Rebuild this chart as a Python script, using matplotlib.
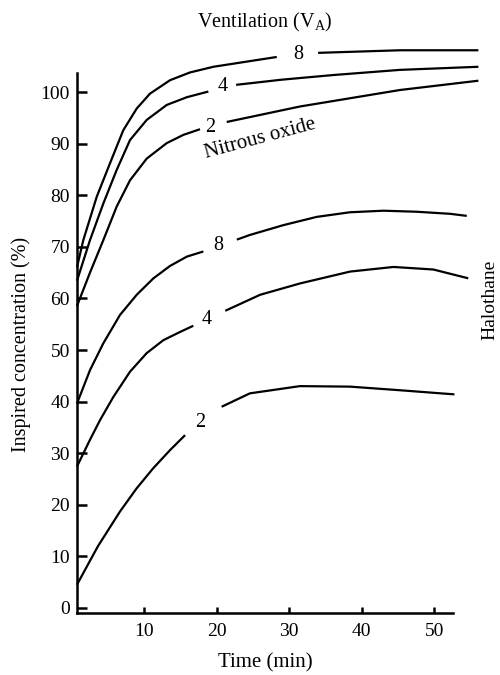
import matplotlib
matplotlib.use("Agg")
import matplotlib.pyplot as plt
import numpy as np

plt.rcParams['font.family'] = ['Liberation Serif', 'DejaVu Serif']
plt.rcParams['mathtext.fontset'] = 'custom'
plt.rcParams['mathtext.rm'] = 'Liberation Serif'

# ---- data (time in min, inspired concentration in %) ----
n2o_8_t = [0.75, 1.63, 3.48, 5.31, 7.14, 8.99, 10.83, 13.59, 16.34, 19.56, 23.24, 28.3,
           34.0, 45.3, 56.1]
n2o_8_v = [66.0, 71.3, 79.7, 86.2, 92.6, 96.8, 99.7, 102.3, 103.8, 104.9, 105.7, 106.8,
           107.6, 108.1, 108.1]

n2o_4_t = [0.75, 2.55, 4.39, 6.23, 8.07, 10.37, 13.13, 15.9, 18.87,
           22.7, 29.0, 36.1, 45.3, 56.1]
n2o_4_v = [63.4, 71.3, 78.4, 84.9, 90.7, 94.6, 97.5, 99.0, 100.1,
           101.4, 102.4, 103.3, 104.3, 104.9]

n2o_2_t = [0.75, 2.55, 4.39, 6.23, 8.07, 10.37, 13.13, 15.42, 17.72,
           21.4, 31.5, 45.3, 56.1]
n2o_2_v = [58.5, 65.0, 71.3, 77.8, 82.9, 87.1, 90.1, 91.7, 92.8,
           94.2, 97.2, 100.4, 102.2]

hal_8_t = [0.75, 2.55, 4.39, 6.69, 8.99, 11.3, 13.59, 15.9, 18.18,
           22.8, 24.6, 29.2, 33.8, 38.4, 43.0, 47.6, 52.2, 54.5]
hal_8_v = [39.6, 46.1, 51.3, 56.8, 60.7, 63.9, 66.3, 68.1, 69.1,
           71.4, 72.3, 74.2, 75.8, 76.7, 77.0, 76.8, 76.4, 76.0]

hal_4_t = [0.75, 2.55, 3.93, 5.77, 8.07, 10.37, 12.66, 14.97, 16.8,
           21.2, 26.0, 31.5, 38.4, 44.4, 49.9, 54.7]
hal_4_v = [27.4, 32.6, 36.4, 40.9, 45.8, 49.4, 51.9, 53.5, 54.7,
           57.6, 60.7, 62.9, 65.2, 66.1, 65.6, 63.9]

hal_2_t = [0.75, 3.66, 6.69, 8.99, 11.28, 13.59, 15.66,
           20.7, 24.6, 31.5, 38.4, 45.3, 52.8]
hal_2_v = [4.5, 12.0, 18.7, 23.2, 27.1, 30.6, 33.5,
           39.0, 41.6, 43.0, 42.9, 42.2, 41.4]

ventilation_labels = ["8", "4", "2", "8", "4", "2"]
x_ticks = [10, 20, 30, 40, 50]
y_ticks = [0, 10, 20, 30, 40, 50, 60, 70, 80, 90, 100]

# ---- layout / style ----
curves = [
    (n2o_8_t, n2o_8_v, (28.3, 34.0), (31.2, 107.2)),
    (n2o_4_t, n2o_4_v, (18.87, 22.7), (20.9, 101.0)),
    (n2o_2_t, n2o_2_v, (17.72, 21.4), (19.1, 93.2)),
    (hal_8_t, hal_8_v, (18.18, 22.8), (20.3, 70.2)),
    (hal_4_t, hal_4_v, (16.8, 21.2), (18.7, 56.0)),
    (hal_2_t, hal_2_v, (15.66, 20.7), (17.7, 36.0)),
]

fig = plt.figure(figsize=(5, 6.75), dpi=100)
ax = fig.add_axes([0.154, 0.0919, 0.752, 0.80])
ax.set_xlim(0.76, 52.6)
ax.set_ylim(-0.97, 103.7)

for (t, v, gap, lab_pos), lab in zip(curves, ventilation_labels):
    t = np.asarray(t)
    v = np.asarray(v)
    left = t <= gap[0]
    right = t >= gap[1]
    for m in (left, right):
        ax.plot(t[m], v[m], color='black', lw=1.6, clip_on=False,
                solid_capstyle='butt', solid_joinstyle='round')
    ax.text(lab_pos[0], lab_pos[1], lab, fontsize=14.5, ha='center', va='center')

ax.text(26.0, 90.9, "Nitrous oxide", fontsize=15, rotation=15,
        ha='center', va='center', rotation_mode='anchor')

for s in ('top', 'right'):
    ax.spines[s].set_visible(False)
for s in ('left', 'bottom'):
    ax.spines[s].set_linewidth(1.8)

ax.set_xticks(x_ticks)
ax.set_yticks(y_ticks)
ax.tick_params(axis='y', direction='in', length=7.5, width=1.8, labelsize=14, pad=5)
ax.tick_params(axis='x', direction='in', length=4.5, width=1.8, labelsize=14, pad=7)

fig.text(265/500, 1 - 663/675, "Time (min)", fontsize=15, ha='center', va='center')
fig.text(21/500, 1 - 344/675, "Inspired concentration (%)", fontsize=14.5,
         rotation=90, ha='center', va='center')
fig.text(265/500, 1 - 22/675, r"Ventilation (V$_\mathrm{A}$)", fontsize=14.5,
         ha='center', va='center')
fig.text(490/500, 1 - 300/675, "Halothane", fontsize=14, rotation=90,
         ha='center', va='center')

fig.savefig("out.png", dpi=100)
